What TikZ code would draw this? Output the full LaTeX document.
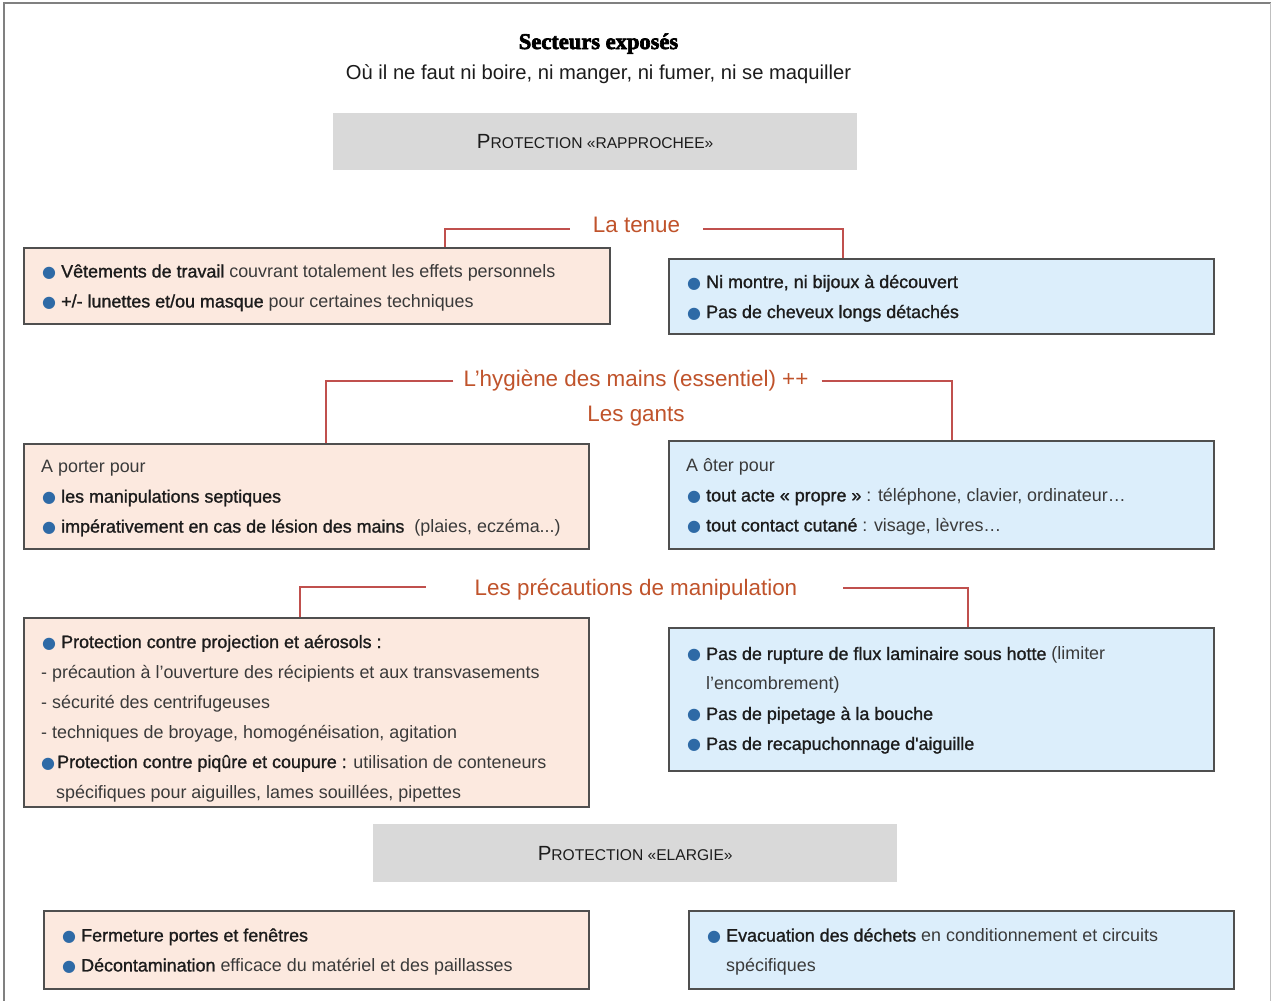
\documentclass[tikz,border=0pt]{standalone}
\usepackage{fontspec}
\setmainfont{Liberation Sans}
\newfontfamily\semibold{Liberation Sans}[FakeBold=1.2]
\newfontfamily\titlefont{Liberation Serif Bold}[FakeBold=3]
\newfontfamily\dejavu{DejaVu Sans}

\definecolor{peach}{HTML}{FCE9DF}
\definecolor{sky}{HTML}{DCEEFB}
\definecolor{greybox}{HTML}{D9D9D9}
\definecolor{edge}{HTML}{4F4F4F}
\definecolor{wire}{HTML}{C0504D}
\definecolor{headc}{HTML}{C0532B}
\definecolor{bulc}{HTML}{2E6AA6}
\definecolor{txt}{HTML}{3A3A3A}
\definecolor{txtb}{HTML}{1C1C1C}

% blue bullet followed by the gap before the item text
\newcommand\bl{\makebox[20pt][l]{\hspace{1pt}\textcolor{bulc}{\dejavu\fontsize{16}{16}\selectfont ●}}}
\newcommand\blnarrow{\makebox[16pt][l]{\hspace{0pt}\textcolor{bulc}{\dejavu\fontsize{16}{16}\selectfont ●}}}
\newcommand\B[1]{{\semibold\color{txtb}#1}}
\newcommand\pcaps[1]{{\fontsize{20.5}{20.5}\selectfont P}{\fontsize{15.6}{15.6}\selectfont #1}}

\begin{document}
\begin{tikzpicture}[x=1pt,y=-1pt,
  pbox/.style={draw=edge,line width=1.6pt,fill=peach,anchor=north west,inner sep=0pt,rectangle},
  bbox/.style={draw=edge,line width=1.6pt,fill=sky,anchor=north west,inner sep=0pt,rectangle},
  gbox/.style={fill=greybox,anchor=north west,inner sep=0pt,text=txtb,font=\fontsize{15}{15}\selectfont},
  body/.style={font=\fontsize{17.9}{30}\selectfont,text=txt,align=left,inner sep=0pt,anchor=west},
  head/.style={font=\fontsize{22.4}{26}\selectfont,text=headc,anchor=base,inner sep=0pt},
  conn/.style={draw=wire,line width=1.2pt},
  frame/.style={draw=black!50,line width=2pt}]

\useasboundingbox (0,0) rectangle (1272,1001);
\fill[white] (0,0) rectangle (1272,1001);

% page frame
\draw[frame] (3.5,1001) -- (3.5,2.5) -- (1270.5,2.5);
\draw[draw=black!25,line width=1.5pt] (1270.5,2.5) -- (1270.5,1001);

% title
\node[anchor=base,inner sep=0pt,text=black,font=\titlefont\fontsize{22.5}{22.5}\selectfont] (title) at (598.5,49) {Secteurs exposés};
\node[anchor=base,inner sep=0pt,text=txtb,font=\fontsize{20.2}{24}\selectfont] (subtitle) at (598.5,79)
  {Où il ne faut ni boire, ni manger, ni fumer, ni se maquiller};

% close protection
\node[gbox,minimum width=524pt,minimum height=57pt] (close) at (333,113) {\pcaps{ROTECTION «RAPPROCHEE»}};

% --- clothing
\node[head] (tenue) at (636.5,232) {La tenue};
\node[pbox,minimum width=586pt,minimum height=76pt] (tenueL) at (23,247) {};
\node[body] (tenueLt) at ([xshift=18pt,yshift=-2pt]tenueL.west) {%
  \bl\B{Vêtements de travail} couvrant totalement les effets personnels\\
  \bl\B{+/- lunettes et/ou masque} pour certaines techniques};
\node[bbox,minimum width=545pt,minimum height=75pt] (tenueR) at (668,258) {};
\node[body] (tenueRt) at ([xshift=18pt,yshift=-2pt]tenueR.west) {%
  \bl\B{Ni montre, ni bijoux à découvert}\\
  \bl\B{Pas de cheveux longs détachés}};
\draw[conn] ([xshift=-23pt,yshift=3pt]tenue.base west) -| ([xshift=422pt]tenueL.north west);
\draw[conn] ([xshift=23pt,yshift=3pt]tenue.base east) -| ([xshift=175pt]tenueR.north west);

% --- hand hygiene and gloves
\node[head] (hyg) at (636,386) {L'hygiène des mains (essentiel) ++};
\node[head] (gants) at (636,421) {Les gants};
\node[pbox,minimum width=565pt,minimum height=105pt] (gantsL) at (23,443) {};
\node[body] (gantsLt) at ([xshift=18pt,yshift=-2pt]gantsL.west) {%
  A porter pour\\
  \bl\B{les manipulations septiques}\\
  \bl\B{impérativement en cas de lésion des mains}\ \ (plaies, eczéma...)};
\node[bbox,minimum width=545pt,minimum height=108pt] (gantsR) at (668,440) {};
\node[body] (gantsRt) at ([xshift=18pt,yshift=-2pt]gantsR.west) {%
  A ôter pour\\
  \bl\B{tout acte « propre »} : téléphone, clavier, ordinateur…\\
  \bl\B{tout contact cutané} : visage, lèvres…};
\draw[conn] ([xshift=-10pt,yshift=5pt]hyg.base west) -| ([xshift=303pt]gantsL.north west);
\draw[conn] ([xshift=13pt,yshift=5pt]hyg.base east) -| ([xshift=284pt]gantsR.north west);

% --- handling precautions
\node[head] (prec) at (636,595) {Les précautions de manipulation};
\node[pbox,minimum width=565pt,minimum height=189pt] (precL) at (23,617) {};
\node[body] (precLt) at ([xshift=18pt,yshift=-6pt]precL.west) {%
  \bl\B{Protection contre projection et aérosols :}\\
  - précaution à l'ouverture des récipients et aux transvasements\\
  - sécurité des centrifugeuses\\
  - techniques de broyage, homogénéisation, agitation\\
  \blnarrow\B{Protection contre piqûre et coupure :} utilisation de conteneurs\\
  \hspace{15pt}spécifiques pour aiguilles, lames souillées, pipettes};
\node[bbox,minimum width=545pt,minimum height=143pt] (precR) at (668,627) {};
\node[body] (precRt) at ([xshift=18pt,yshift=-1pt]precR.west) {%
  \bl\B{Pas de rupture de flux laminaire sous hotte} (limiter\\
  \hspace{20pt}l'encombrement)\\
  \bl\B{Pas de pipetage à la bouche}\\
  \bl\B{Pas de recapuchonnage d'aiguille}};
\draw[conn] ([xshift=-49pt,yshift=8pt]prec.base west) -| ([xshift=277pt]precL.north west);
\draw[conn] ([xshift=46pt,yshift=7pt]prec.base east) -| ([xshift=300pt]precR.north west);

% wide protection
\node[gbox,minimum width=524pt,minimum height=58pt] (wide) at (373,824) {\pcaps{ROTECTION «ELARGIE»}};
\node[pbox,minimum width=545pt,minimum height=78pt] (wideL) at (43,910) {};
\node[body] (wideLt) at ([xshift=18pt,yshift=-2pt]wideL.west) {%
  \bl\B{Fermeture portes et fenêtres}\\
  \bl\B{Décontamination} efficace du matériel et des paillasses};
\node[bbox,minimum width=545pt,minimum height=78pt] (wideR) at (688,910) {};
\node[body] (wideRt) at ([xshift=18pt,yshift=-2pt]wideR.west) {%
  \bl\B{Evacuation des déchets} en conditionnement et circuits\\
  \hspace{20pt}spécifiques};
\end{tikzpicture}
\end{document}
